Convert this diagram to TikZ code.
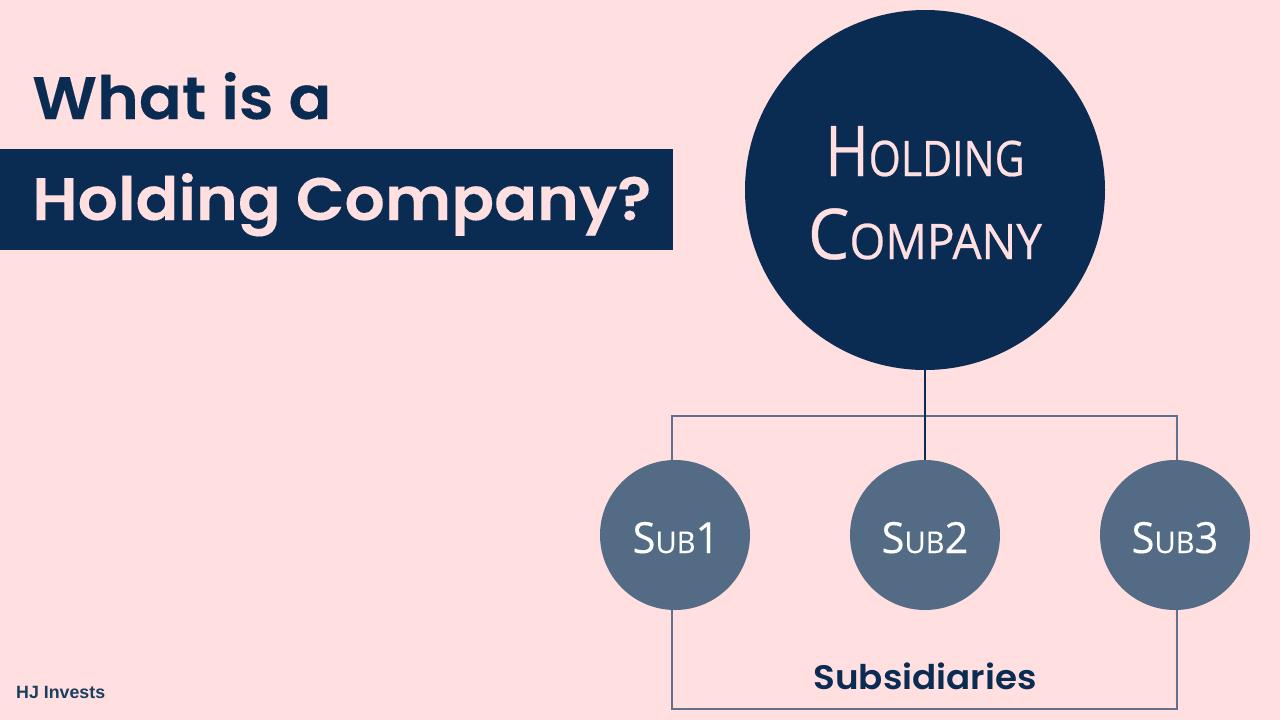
\documentclass[tikz,border=0pt]{standalone}
\usepackage{fontspec}
\usepackage{graphicx}
\setmainfont{Poppins}
\newfontfamily\titlefont[FakeStretch=1.055,FakeBold=0.15]{Poppins SemiBold}
\newfontfamily\labelfont[FakeStretch=1.05]{Poppins SemiBold}
\newfontfamily\handfont[FakeBold=0.5]{Open Sans}
\newfontfamily\subfont[FakeBold=0.2]{Open Sans}
\newfontfamily\brandfont{Liberation Sans Bold}
\definecolor{navy}{HTML}{0B2C52}
\definecolor{blush}{HTML}{FFDFE0}
\definecolor{slateb}{HTML}{536B85}
\definecolor{wireb}{HTML}{636F8C}
\definecolor{brandb}{HTML}{1B3F60}
\newcommand{\capsmall}[5]{\scalebox{#1}[1]{\handfont\fontsize{#2}{#2}\selectfont #4\fontsize{#3}{#3}\selectfont #5}}
\newcommand{\subtext}[1]{\scalebox{0.97}[1]{\subfont\fontsize{43}{43}\selectfont S\fontsize{30}{30}\selectfont UB\fontsize{43}{43}\selectfont #1}}
\tikzset{
  x=1pt,y=-1pt,
  title/.style={inner sep=0pt,anchor=base west,font=\titlefont\fontsize{60}{60}\selectfont},
  bigcircle/.style={circle,fill=navy,minimum size=360pt,inner sep=0pt},
  subcircle/.style={circle,fill=slateb,minimum size=150pt,inner sep=0pt},
  handtext/.style={inner sep=0pt,anchor=base},
  wire/.style={draw=wireb,line width=1.8pt,line join=miter},
  stem/.style={draw=navy,line width=2pt}
}
\begin{document}
\begin{tikzpicture}
\useasboundingbox (0,0) rectangle (1280,720);
\fill[blush] (0,0) rectangle (1280,720);
\fill[navy] (0,149) rectangle (673,249.5);
\node[title,text=navy] (t1) at (32,119) {What is a};
\node[title,text=blush] (t2) at (32,220) {Holding Company?};
\node[bigcircle] (hc) at (925,190) {};
\node[handtext,text=blush] (hc1) at (925,176) {\capsmall{0.84}{70}{49}{H}{OLDING}};
\node[handtext,text=blush] (hc2) at (925,259) {\capsmall{0.94}{70}{49}{C}{OMPANY}};
\node[subcircle] (s1) at (675,535) {};
\node[subcircle] (s2) at (925,535) {};
\node[subcircle] (s3) at (1175,535) {};
\node[handtext,text=white] (s1t) at (676,553) {\subtext{1}};
\node[handtext,text=white] (s2t) at (925,553) {\subtext{2}};
\node[handtext,text=white] (s3t) at (1175,553) {\subtext{3}};
\coordinate (tl) at (672,416);
\coordinate (tr) at (1177,416);
\coordinate (bl) at (672,709);
\coordinate (br) at (1177,709);
\draw[wire] ([xshift=-3pt]s1.north) -- (tl) -- (tr) -- ([xshift=2pt]s3.north);
\draw[wire] ([xshift=-3pt]s1.south) -- (bl) -- (br) -- ([xshift=2pt]s3.south);
\draw[stem] (hc.south) -- (s2.north);
\node[inner sep=0pt,anchor=base,text=navy,font=\labelfont\fontsize{34}{34}\selectfont] (lab) at (925,689) {Subsidiaries};
\node[inner sep=0pt,anchor=base west,text=brandb,font=\brandfont\fontsize{17.8}{17.8}\selectfont] (brand) at (16,698) {HJ Invests};
\end{tikzpicture}
\end{document}
